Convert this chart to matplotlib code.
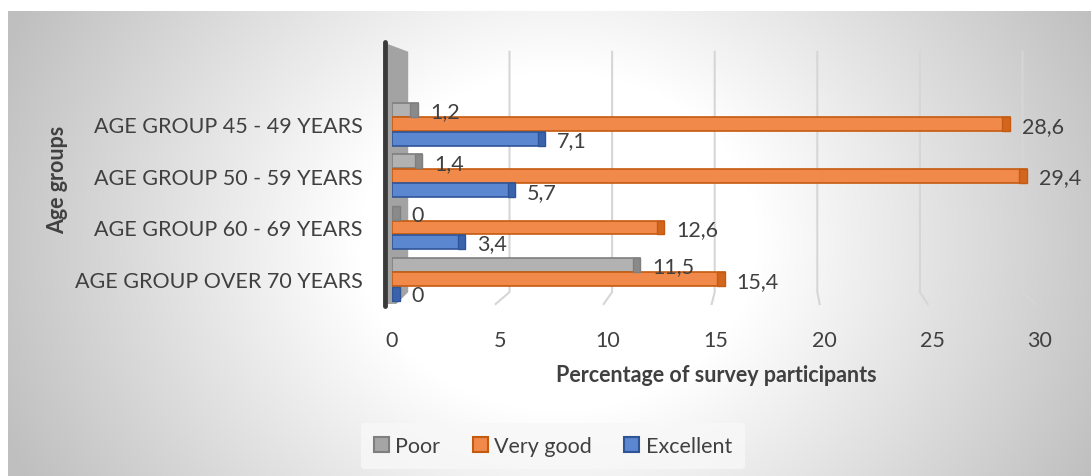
import numpy as np
import matplotlib
matplotlib.use("Agg")
import matplotlib.pyplot as plt
from matplotlib.patches import Patch, Polygon
from matplotlib.lines import Line2D

plt.rcParams['font.family'] = ['Lato', 'DejaVu Sans']

# data (bottom to top, as drawn)
age_groups = ['AGE GROUP OVER 70 YEARS', 'AGE GROUP 60 - 69 YEARS',
              'AGE GROUP 50 - 59 YEARS', 'AGE GROUP 45 - 49 YEARS']
poor = [11.5, 0, 1.4, 1.2]
very_good = [15.4, 12.6, 29.4, 28.6]
excellent = [0, 3.4, 5.7, 7.1]
series_names = ['Poor', 'Very good', 'Excellent']
x_ticks = [0, 5, 10, 15, 20, 25, 30]

txt = '#404040'
fs = 15.5
# face, edge, end cap
styles = {
    'Poor': ('#b2b2b2', '#7f7f7f', '#8a8a8a'),
    'Very good': ('#f0894a', '#c55a11', '#d2661f'),
    'Excellent': ('#5b87d0', '#2f5597', '#3a63ae'),
}

fig = plt.figure(figsize=(10.91, 4.77), dpi=100)

# radial grey background of the chart area
bg = fig.add_axes([8 / 1091, 0, 1 - 8 / 1091, 1 - 12 / 477], zorder=-5)
h, w = 465, 1083
yy, xx = np.mgrid[0:h, 0:w]
r = np.sqrt(((xx - 550) / 1.0) ** 2 + ((yy - 230) / 0.85) ** 2)
g = 1.0 - 0.25 * np.clip((r - 200) / 400, 0, 1)
bg.imshow(np.dstack([g, g, g]), aspect='auto', extent=[0, 1, 0, 1])
bg.axis('off')

ax = fig.add_axes([392 / 1091, 1 - 305 / 477, 648 / 1091, 260 / 477])
ax.patch.set_alpha(0)
ax.set_xlim(0, 30)
ax.set_ylim(-0.48, 4.55)

# back wall gridlines with a bit of perspective
for v in x_ticks[1:]:
    bx = 0.69 + 0.95 * v
    ax.plot([bx, bx, v - 0.2], [4.40, -0.25, -0.48], color='#d6d6d6', lw=1.5,
            zorder=1, clip_on=False)

# left wall
ax.add_patch(Polygon([(-0.2, 4.55), (0.75, 4.40), (0.75, -0.25), (0.2, -0.48), (-0.2, -0.48)],
                     closed=True, facecolor='#a3a3a3', edgecolor='none', zorder=2, clip_on=False))
ax.add_line(Line2D([-0.32, -0.32], [-0.52, 4.58], color='#3a3a3a', lw=3.5,
                   solid_capstyle='round', zorder=3, clip_on=False))

y = np.arange(len(age_groups))
bh = 0.27
offsets = {'Poor': 0.28, 'Very good': 0.0, 'Excellent': -0.28}
for name, vals in zip(series_names, [poor, very_good, excellent]):
    face, edge, cap = styles[name]
    yp = y + offsets[name]
    ax.barh(yp, vals, height=bh, color=face, edgecolor=edge, lw=1.2, zorder=4)
    caps_left = [max(v, 0.35) - 0.35 for v in vals]
    ax.barh(yp, 0.35, left=caps_left, height=bh, color=cap, edgecolor=edge, lw=1.0, zorder=5)
    for yi, v in zip(yp, vals):
        ax.text(max(v, 0.35) + 0.55, yi - 0.03, f"{v:g}".replace('.', ','), fontsize=fs,
                color=txt, va='center', ha='left', zorder=6, clip_on=False)

ax.set_yticks(y)
ax.set_yticklabels(age_groups)
ax.set_xticks(x_ticks)
ax.tick_params(axis='both', length=0, labelsize=fs, labelcolor=txt)
ax.tick_params(axis='x', pad=19)
ax.tick_params(axis='y', pad=21)
for s in ax.spines.values():
    s.set_visible(False)

ax.set_xlabel('Percentage of survey participants', fontsize=fs, fontweight='bold', color=txt)
ax.xaxis.set_label_coords(0.5, -0.23)
ax.set_ylabel('Age groups', fontsize=fs, fontweight='bold', color=txt)
ax.yaxis.set_label_coords(-0.50, 0.48)

handles = [Patch(facecolor=styles[n][0], edgecolor=styles[n][1], lw=1.5, label=n) for n in series_names]
handles[0].set_facecolor('#a5a5a5')
leg = fig.legend(handles=handles, loc='center', bbox_to_anchor=(553 / 1091, 1 - 447 / 477),
                 ncol=3, frameon=True, fontsize=fs, handlelength=0.7, handleheight=0.7,
                 handletextpad=0.3, columnspacing=1.5, borderpad=0.6)
leg.get_frame().set_facecolor('#f8f8f8')
leg.get_frame().set_edgecolor('none')
leg.get_frame().set_alpha(0.8)
for t in leg.get_texts():
    t.set_color(txt)

fig.savefig('out.png', dpi=100)
